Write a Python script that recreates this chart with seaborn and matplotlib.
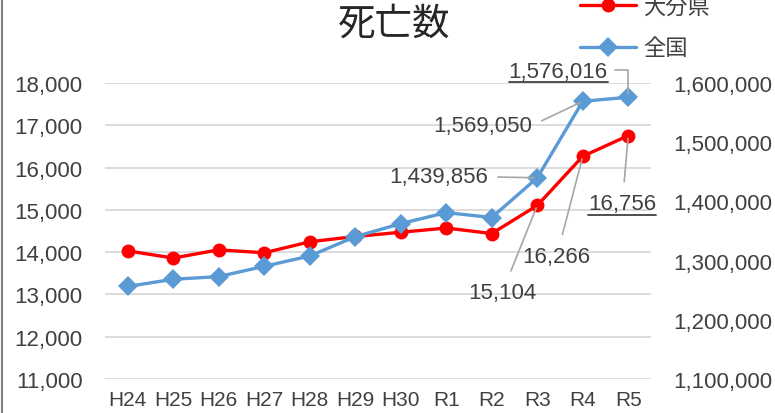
import numpy as np
import pandas as pd
import matplotlib
matplotlib.use("Agg")
import matplotlib.pyplot as plt
import matplotlib.text as mtext
import seaborn as sns
from matplotlib.lines import Line2D
from matplotlib.ticker import FuncFormatter, FixedLocator

# ---- data ----
years = ["H24", "H25", "H26", "H27", "H28", "H29", "H30", "R1", "R2", "R3", "R4", "R5"]
oita = [14030, 13860, 14055, 13985, 14245, 14370, 14470, 14570, 14440, 15104, 16266, 16756]
japan = [1256359, 1268436, 1273004, 1290444, 1307748, 1340397, 1362470, 1381093,
         1372755, 1439856, 1569050, 1576016]
series_names = ["大分県", "全国"]
title = "死亡数"
left_ticks = [11000, 12000, 13000, 14000, 15000, 16000, 17000, 18000]
right_ticks = [1100000, 1200000, 1300000, 1400000, 1500000, 1600000]

RED = "#FF0000"
BLUE = "#5B9BD5"
TXT = "#404040"
LEAD = "#A6A6A6"

sns.set_theme(style="white")
plt.rcParams['font.family'] = ['Liberation Sans', 'Noto Sans CJK JP', 'DejaVu Sans']

W, H = 775, 414
fig = plt.figure(figsize=(W / 100, H / 100), dpi=100)
ax = fig.add_axes([105 / W, 34 / H, 546 / W, 296 / H])
ax2 = ax.twinx()

x = np.arange(len(years))
df = pd.DataFrame({"x": x, "oita": oita, "japan": japan})

sns.lineplot(data=df, x="x", y="oita", ax=ax, color=RED, lw=2.4, marker="o",
             markersize=10, markeredgewidth=0, legend=False, zorder=3)
sns.lineplot(data=df, x="x", y="japan", ax=ax2, color=BLUE, lw=2.4, marker="D",
             markersize=10, markeredgewidth=0, legend=False, zorder=3)

fmt = FuncFormatter(lambda v, p: f"{int(round(v)):,}")
ax.set_xlim(-0.5, len(years) - 0.5)
ax.set_ylim(left_ticks[0], left_ticks[-1])
ax2.set_ylim(right_ticks[0], right_ticks[-1])
ax.yaxis.set_major_locator(FixedLocator(left_ticks))
ax2.yaxis.set_major_locator(FixedLocator(right_ticks))
ax.yaxis.set_major_formatter(fmt)
ax2.yaxis.set_major_formatter(fmt)
ax.set_xticks(x)
ax.set_xticklabels(years)
ax.set_xlabel("")
ax.set_ylabel("")
ax2.set_ylabel("")

ax.yaxis.grid(True, color="#D9D9D9", lw=1.3)
ax.xaxis.grid(False)
ax2.grid(False)
for a in (ax, ax2):
    for s in a.spines.values():
        s.set_visible(False)
ax.tick_params(axis="y", length=0, pad=16, labelsize=16, labelcolor=TXT)
ax.tick_params(axis="x", length=0, pad=8, labelsize=15, labelcolor=TXT)
ax2.tick_params(axis="y", length=0, pad=16, labelsize=16, labelcolor=TXT)

# ---- data labels ----
anns = []
def add_label(axis, vals, i, dx, dy, bent=False, underline=False, relpos=(0.5, 0.5), shrinkA=6):
    if bent:
        ap = dict(arrowstyle="-", color=LEAD, lw=1.2, shrinkA=3, shrinkB=2,
                  connectionstyle="angle,angleA=0,angleB=90,rad=0", relpos=(1.0, 0.55))
    else:
        ap = dict(arrowstyle="-", color=LEAD, lw=1.2, shrinkA=shrinkA, shrinkB=2, relpos=relpos)
    a = axis.annotate(f"{vals[i]:,}", xy=(x[i], vals[i]), xytext=(dx, dy),
                      textcoords="offset pixels", ha="center", va="center",
                      fontsize=16, color=TXT, arrowprops=ap, zorder=5)
    anns.append((a, underline))

add_label(ax2, japan, 11, -70, 26, bent=True, underline=True)
add_label(ax2, japan, 10, -100, -24, relpos=(1.0, 0.5), shrinkA=5)
add_label(ax2, japan, 9, -99, 1, relpos=(1.0, 0.5), shrinkA=5)
add_label(ax, oita, 11, -6, -68, underline=True)
add_label(ax, oita, 10, -26, -100)
add_label(ax, oita, 9, -35, -87)

# ---- title ----
fig.text(394 / W, 1 - 24 / H, title, ha="center", va="center", fontsize=27,
         color="#262626", family=["Noto Sans CJK JP"])

# ---- legend ----
handles = [Line2D([], [], color=RED, lw=2.4, marker="o", markersize=10, markeredgewidth=0),
           Line2D([], [], color=BLUE, lw=2.4, marker="D", markersize=10, markeredgewidth=0)]
leg = fig.legend(handles, series_names, loc="center left",
                 bbox_to_anchor=(580 / W, 1 - 28 / H), frameon=False,
                 prop={"family": "Noto Sans CJK JP", "size": 16},
                 handlelength=2.5, handletextpad=0.35, labelspacing=0.85,
                 borderpad=0, borderaxespad=0)
for t in leg.get_texts():
    t.set_color(TXT)

# left frame edge
fig.add_artist(Line2D([1.5 / W, 1.5 / W], [0, 1], transform=fig.transFigure,
                      color="#7F7F7F", lw=1.5))

# underline selected labels
fig.canvas.draw()
r = fig.canvas.get_renderer()
inv = fig.transFigure.inverted()
for a, ul in anns:
    if ul:
        bb = mtext.Text.get_window_extent(a, r)
        (x0, y0), (x1, _) = inv.transform([(bb.x0, bb.y0 - 0.5), (bb.x1, bb.y0 - 0.5)])
        fig.add_artist(Line2D([x0, x1], [y0, y0], transform=fig.transFigure,
                              color=TXT, lw=1.3))

fig.savefig("out.png", dpi=100)
